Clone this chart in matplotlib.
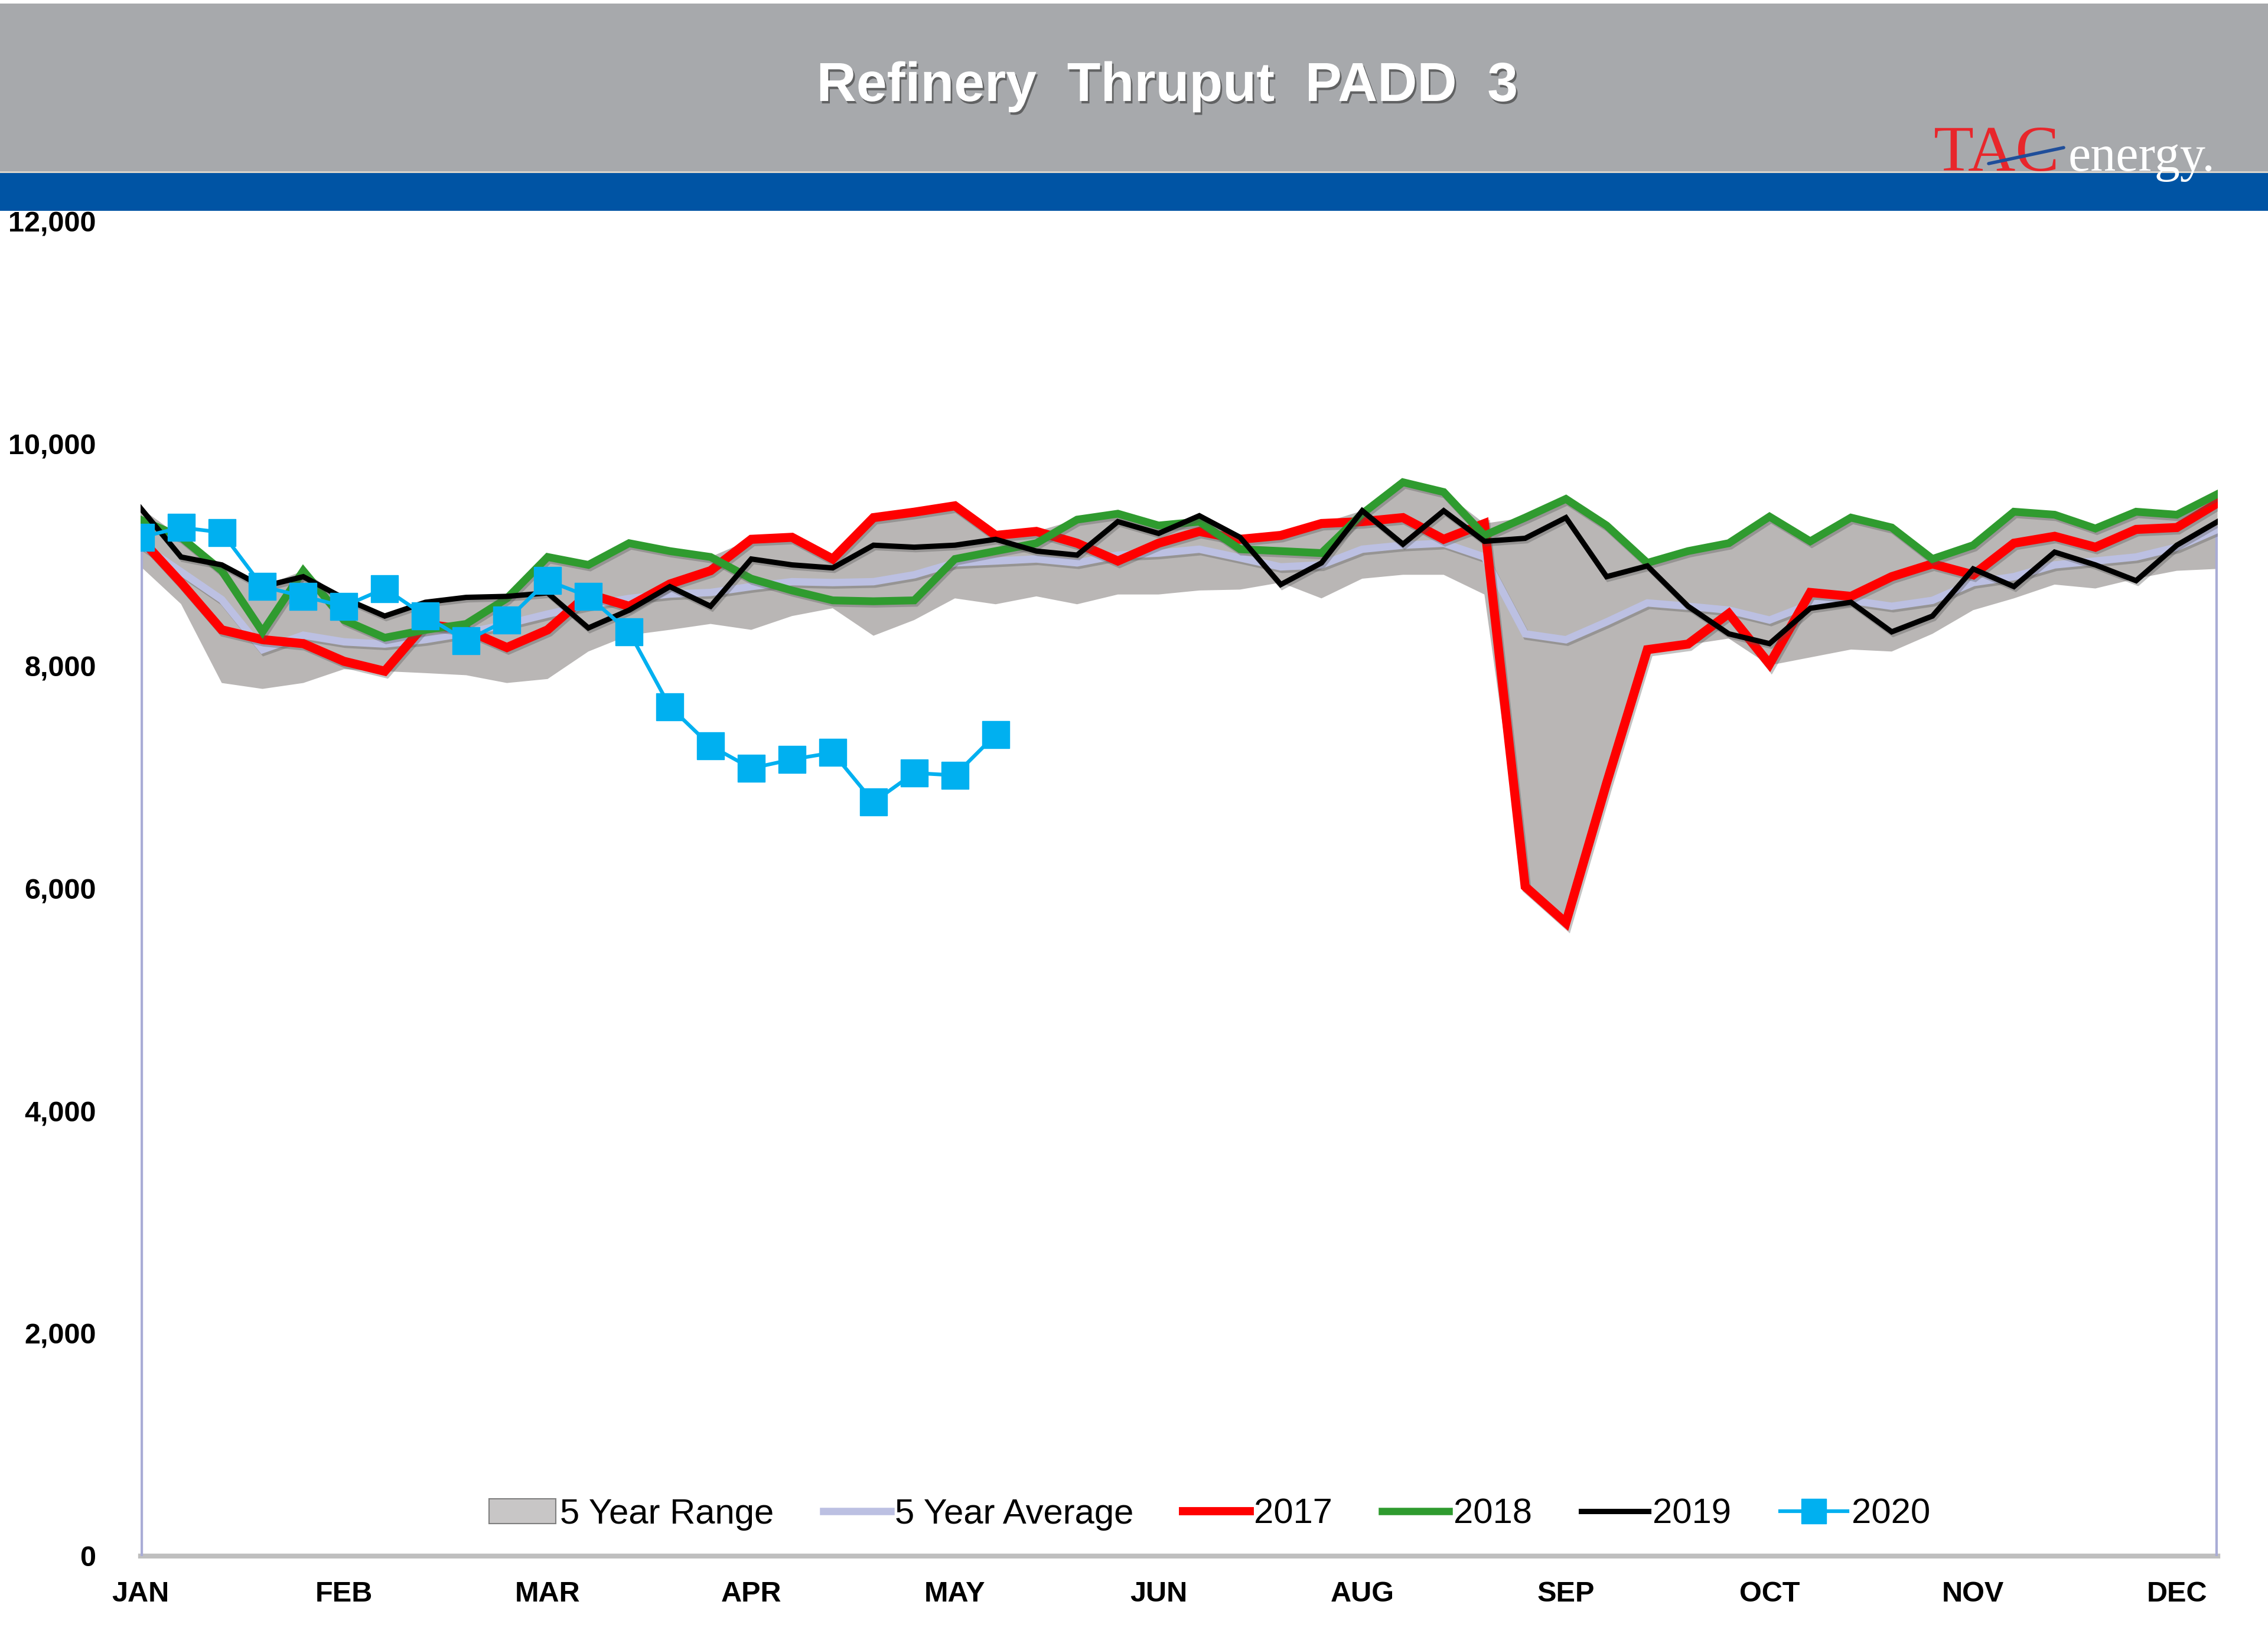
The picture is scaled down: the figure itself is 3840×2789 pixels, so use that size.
import numpy as np
import matplotlib
matplotlib.use("Agg")
import matplotlib.pyplot as plt
from matplotlib.patches import Rectangle, Patch
from matplotlib.lines import Line2D
from matplotlib.ticker import FuncFormatter
import matplotlib.patheffects as pe

plt.rcParams['font.family'] = ['Liberation Sans', 'DejaVu Sans']

# ---------------- data (weekly, 52 weeks) ----------------
month_labels = ["JAN", "FEB", "MAR", "APR", "MAY", "JUN", "AUG", "SEP", "OCT", "NOV", "DEC"]

range_low = [8900, 8560, 7850, 7797, 7850, 7974, 7956, 7939, 7920, 7850,
             7886, 8133, 8280, 8328, 8381, 8328, 8452, 8522, 8275, 8416,
             8611, 8558, 8629, 8558, 8646, 8646, 8682, 8690, 8753, 8611,
             8788, 8823, 8823, 8646, 6020, 5694, 6950, 8133, 8194, 8250,
             8009, 8080, 8151, 8133, 8292, 8505, 8611, 8735, 8700, 8788,
             8859, 8876]

range_high = [9425, 9160, 8912, 8717, 8859, 8611, 8452, 8576, 8620, 8629,
              8983, 8912, 9107, 9036, 8983, 9142, 9160, 8965, 9337, 9386,
              9443, 9177, 9213, 9319, 9372, 9266, 9354, 9160, 9177, 9284,
              9399, 9655, 9567, 9284, 9337, 9505, 9266, 8930, 9036, 9107,
              9346, 9124, 9337, 9248, 8965, 9089, 9390, 9363, 9239, 9390,
              9363, 9549]

avg_5yr = [9100, 8850, 8600, 8150, 8280, 8220, 8200, 8240, 8300, 8380,
           8470, 8550, 8610, 8650, 8664, 8717, 8761, 8753, 8761, 8823,
           8930, 8947, 8965, 8930, 9000, 9018, 9053, 8975, 8894, 8912,
           9053, 9089, 9107, 8983, 8292, 8239, 8399, 8570, 8540, 8505,
           8416, 8558, 8593, 8540, 8593, 8753, 8806, 8912, 8947, 8983,
           9071, 9231]

y2017 = [9150, 8753, 8328, 8240, 8204, 8045, 7956, 8381, 8328, 8169,
         8328, 8650, 8540, 8740, 8860, 9142, 9160, 8965, 9337, 9386,
         9443, 9177, 9213, 9107, 8947, 9107, 9213, 9142, 9177, 9284,
         9301, 9337, 9142, 9284, 6020, 5694, 6950, 8150, 8200, 8475,
         8020, 8664, 8629, 8806, 8921, 8823, 9107, 9169, 9071, 9231,
         9248, 9469]

y2018 = [9319, 9160, 8859, 8310, 8859, 8416, 8257, 8328, 8381, 8611,
         8983, 8912, 9107, 9036, 8983, 8788, 8682, 8593, 8585, 8593,
         8965, 9036, 9107, 9319, 9372, 9266, 9301, 9053, 9036, 9018,
         9372, 9655, 9567, 9177, 9337, 9505, 9266, 8930, 9036, 9107,
         9346, 9124, 9337, 9248, 8965, 9089, 9390, 9363, 9239, 9390,
         9363, 9549]

y2019 = [9425, 8983, 8912, 8717, 8806, 8611, 8452, 8576, 8620, 8629,
         8660, 8345, 8505, 8717, 8540, 8965, 8912, 8885, 9089, 9071,
         9089, 9142, 9036, 9000, 9301, 9195, 9354, 9160, 8735, 8930,
         9399, 9098, 9399, 9124, 9151, 9337, 8806, 8903, 8540, 8292,
         8204, 8522, 8576, 8310, 8452, 8876, 8717, 9027, 8912, 8770,
         9089, 9301]

y2020 = [9160, 9248, 9204, 8717, 8629, 8540, 8700, 8452, 8230, 8416,
         8770, 8629, 8310, 7638, 7285, 7083, 7163, 7224, 6779, 7041,
         7020, 7386]

# ---------------- figure ----------------
W, H = 3840, 2789
fig = plt.figure(figsize=(W / 100, H / 100), dpi=100)
fig.patch.set_facecolor("white")

# header bands
fig.add_artist(Rectangle((0, 1 - 290 / H), 1, 284 / H, transform=fig.transFigure,
                         facecolor="#A7A9AC", edgecolor="none", zorder=0))
fig.add_artist(Rectangle((0, 1 - 293 / H), 1, 3 / H, transform=fig.transFigure,
                         facecolor="#D9D4CC", edgecolor="none", zorder=0))
fig.add_artist(Rectangle((0, 1 - 357 / H), 1, 64 / H, transform=fig.transFigure,
                         facecolor="#0054A4", edgecolor="none", zorder=0))

# title
fig.text(1976 / W, 1 - 147 / H, "Refinery  Thruput  PADD  3", ha="center", va="center",
         fontsize=67, fontweight="bold", color="white", family="Liberation Sans",
         path_effects=[pe.withSimplePatchShadow(offset=(2, -3), shadow_rgbFace="#333333", alpha=0.6)])

# logo
fig.text(3274 / W, 1 - 289 / H, "TAC", ha="left", va="baseline", fontsize=80,
         color="#E8262B", family="Liberation Serif", zorder=5)
fig.text(3502 / W, 1 - 289 / H, "energy.", ha="left", va="baseline", fontsize=62,
         color="white", family="Liberation Serif", zorder=5)
fig.add_artist(Line2D([3367 / W, 3494 / W], [1 - 277 / H, 1 - 250 / H],
                      transform=fig.transFigure, color="#1F4E9A", lw=4, zorder=6,
                      solid_capstyle="round"))

# axes
left = 237.6 / W
right = 3754.6 / W
bottom = (H - 2635) / H
top = (H - 375) / H
ax = fig.add_axes([left, bottom, right - left, top - bottom])
ax.set_facecolor("none")

x = np.arange(len(range_low))
x20 = np.arange(len(y2020))

shadow = [pe.SimpleLineShadow(offset=(2, -3), shadow_color="#555555", alpha=0.35), pe.Normal()]

ax.fill_between(x, range_low, range_high, facecolor="#B9B6B5", edgecolor="none", zorder=1)
ax.vlines([x[0], x[-1]], 0, [avg_5yr[0], avg_5yr[-1]], colors="#A9ACD6", lw=6, zorder=1.5)
ax.plot(x, avg_5yr, color="#BCC0E2", lw=9, zorder=2, solid_joinstyle="miter", path_effects=shadow)
ax.plot(x, y2017, color="#FF0000", lw=11, zorder=3, solid_joinstyle="miter", path_effects=shadow)
ax.plot(x, y2018, color="#2F9B2F", lw=9.5, zorder=4, solid_joinstyle="miter", path_effects=shadow)
ax.plot(x, y2019, color="#000000", lw=6.5, zorder=5, solid_joinstyle="miter", path_effects=shadow)
ax.plot(x20, y2020, color="#00B0F0", lw=4.5, marker="s", markersize=33,
        markerfacecolor="#00B0F0", markeredgecolor="#00B0F0", zorder=6)

ax.set_xlim(0, len(range_low) - 1)
ax.set_ylim(0, 12000)
ax.set_yticks(np.arange(0, 12001, 2000))
ax.yaxis.set_major_formatter(FuncFormatter(lambda v, p: f"{int(v):,}"))
ax.set_xticks(np.arange(0, len(range_low), 5))
ax.set_xticklabels(month_labels)

for lab in ax.get_xticklabels() + ax.get_yticklabels():
    lab.set_fontsize(35)
    lab.set_fontweight("bold")
    lab.set_family("Liberation Sans")
    lab.set_color("black")
ax.tick_params(axis="y", length=0, pad=54)
ax.tick_params(axis="x", length=0, pad=30)

for s in ["top", "left", "right"]:
    ax.spines[s].set_visible(False)
ax.spines["bottom"].set_color("#BFBFBF")
ax.spines["bottom"].set_linewidth(6)
ax.spines["bottom"].set_zorder(0.5)

# legend
handles = [
    Patch(facecolor="#C8C6C6", edgecolor="#7F7F7F", lw=1.5),
    Line2D([], [], color="#BCC0E2", lw=9),
    Line2D([], [], color="#FF0000", lw=10),
    Line2D([], [], color="#2F9B2F", lw=9),
    Line2D([], [], color="#000000", lw=6.5),
    Line2D([], [], color="#00B0F0", lw=4.5, marker="s", markersize=30),
]
labels = ["5 Year Range", "5 Year Average", "2017", "2018", "2019", "2020"]
fig.legend(handles, labels, loc="center", bbox_to_anchor=(2048 / W, 1 - 2564 / H),
           ncol=6, frameon=False, prop={"family": "Liberation Sans", "size": 43},
           handlelength=1.9, handletextpad=0.12, columnspacing=1.4)

fig.savefig("out.png", dpi=100, facecolor="white")
